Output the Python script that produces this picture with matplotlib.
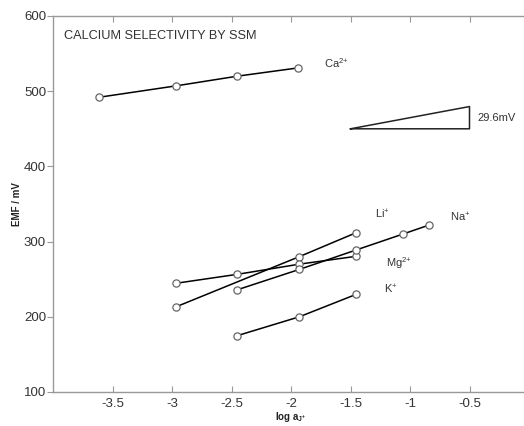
import matplotlib
matplotlib.use("Agg")
import matplotlib.pyplot as plt

plt.rcParams['font.family'] = ['Liberation Sans', 'DejaVu Sans']
plt.rcParams['mathtext.fontset'] = 'custom'
plt.rcParams['mathtext.rm'] = 'Liberation Sans'
plt.rcParams['mathtext.it'] = 'Liberation Sans:italic'
plt.rcParams['mathtext.bf'] = 'Liberation Sans:bold'

ca_x = [-3.61, -2.97, -2.45, -1.94]
ca_y = [492, 507, 520, 531]
li_x = [-2.97, -1.93, -1.45]
li_y = [213, 280, 312]
mg_x = [-2.97, -2.45, -1.93, -1.45]
mg_y = [244.5, 256.5, 270, 280.5]
na_x = [-2.45, -1.93, -1.45, -1.06, -0.84]
na_y = [236, 263, 289, 310, 322]
k_x = [-2.45, -1.93, -1.45]
k_y = [175, 200, 230]

tri_x = [-1.5, -0.5, -0.5, -1.5]
tri_y = [450, 450, 479.6, 450]

xticks = [-3.5, -3, -2.5, -2, -1.5, -1, -0.5]
xticklabels = ['-3.5', '-3', '-2.5', '-2', '-1.5', '-1', '-0.5']
yticks = [100, 200, 300, 400, 500, 600]

fig = plt.figure(figsize=(5.24, 4.26), dpi=100)
ax = fig.add_axes([53/524, 1-392/426, (529-53)/524, (392-16)/426])

for xs, ys in [(ca_x, ca_y), (li_x, li_y), (mg_x, mg_y), (na_x, na_y), (k_x, k_y)]:
    ax.plot(xs, ys, color='black', lw=1.1, marker='o', ms=5.2,
            mfc='white', mec='#666666', mew=0.9, zorder=3)

ax.plot(tri_x, tri_y, color='#222222', lw=1.1)

txt = dict(fontsize=8, color='#333333', va='center', ha='left')
ax.text(-1.72, 538, 'Ca$^{2{+}}$', **txt)
ax.text(-0.43, 465, '29.6mV', **txt)
ax.text(-1.29, 336, 'Li$^{{+}}$', **txt)
ax.text(-0.66, 332, 'Na$^{{+}}$', **txt)
ax.text(-1.20, 272, 'Mg$^{2{+}}$', **txt)
ax.text(-1.22, 236, 'K$^{{+}}$', **txt)
ax.text(-3.91, 573, 'CALCIUM SELECTIVITY BY SSM', fontsize=9.2, color='#333333',
        va='center', ha='left')

ax.set_xlim(-4.0, 0.0)
ax.set_ylim(100, 600)
ax.set_xticks(xticks)
ax.set_xticklabels(xticklabels)
ax.set_yticks(yticks)

for s in ax.spines.values():
    s.set_color('#999999')
    s.set_linewidth(1.0)

ax.tick_params(axis='x', direction='in', length=4, color='#999999',
               labelsize=9.5, labelcolor='#333333', top=True, pad=4)
ax.tick_params(axis='y', direction='out', length=4, color='#999999',
               labelsize=9.5, labelcolor='#333333', pad=1)

ax.set_xlabel('log a$_{\\mathbf{J^{{+}}}}$', fontsize=7, fontweight='bold',
              color='#222222', labelpad=0)
ax.set_ylabel('EMF / mV', fontsize=7, fontweight='bold', color='#222222')
ax.yaxis.set_label_coords(-0.066, 0.5)

fig.savefig('out.png', dpi=100)
